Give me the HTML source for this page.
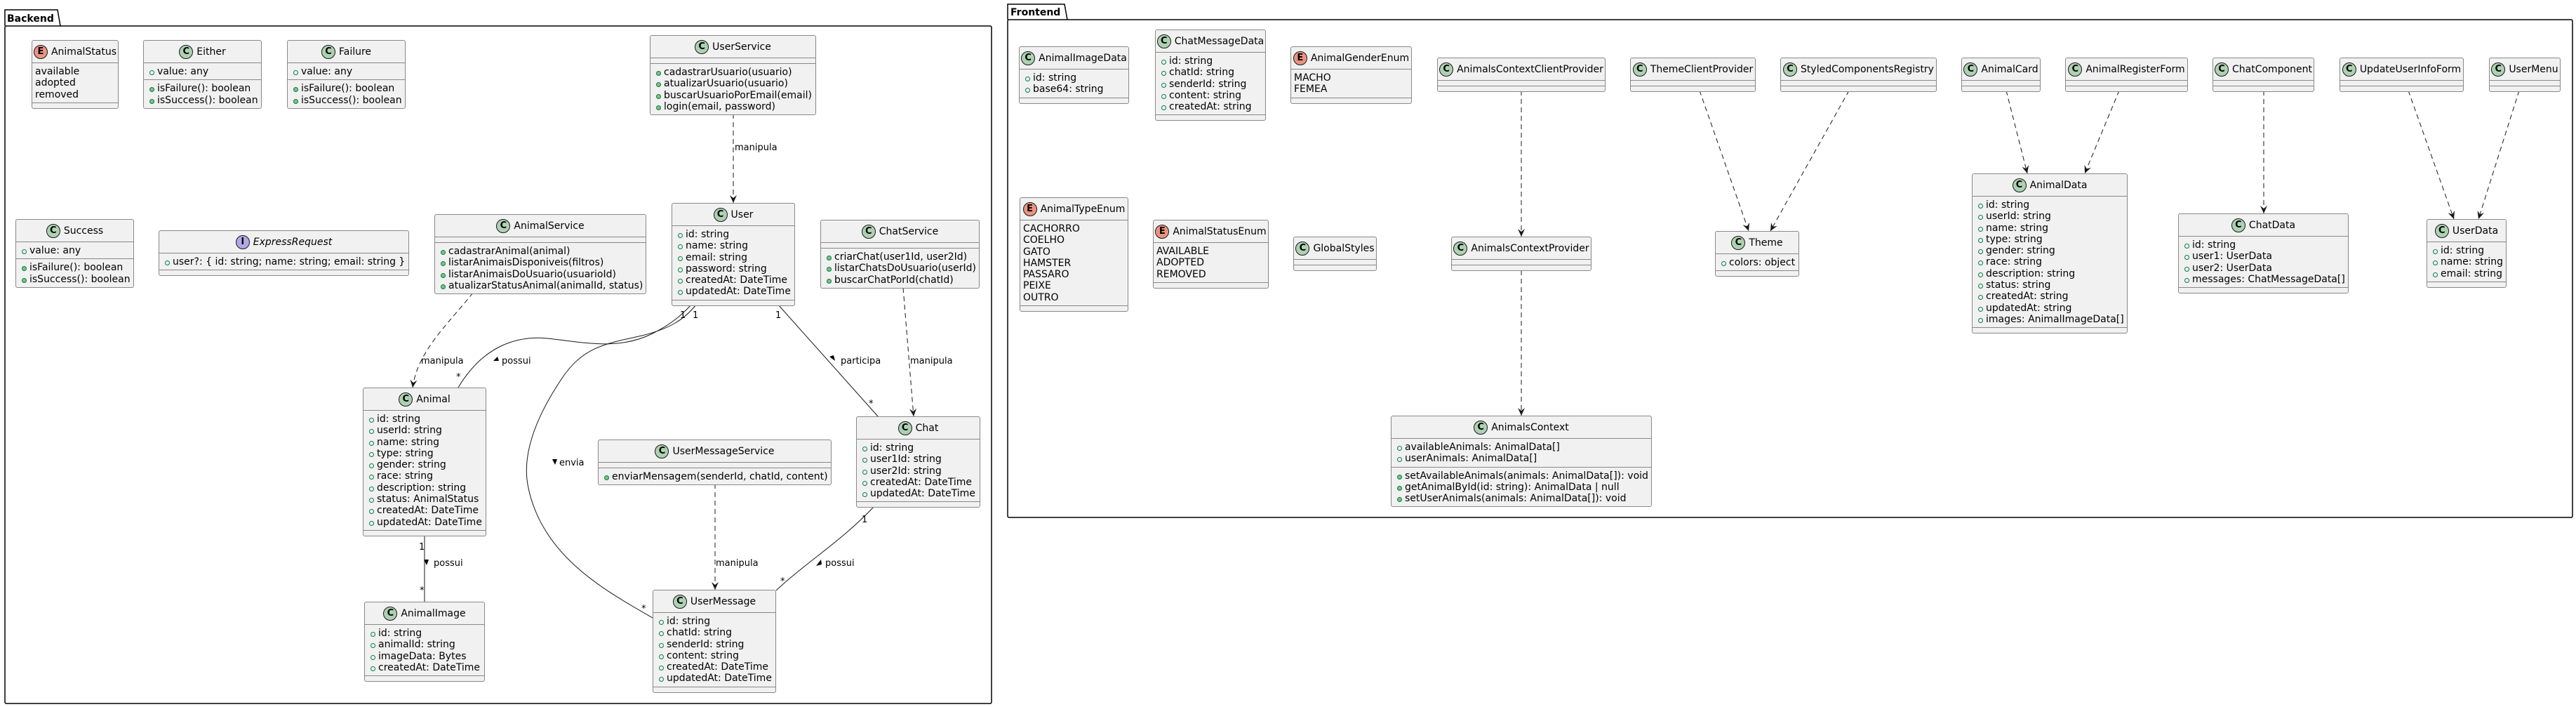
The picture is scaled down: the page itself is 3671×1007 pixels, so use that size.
<!DOCTYPE html>
<html><head><meta charset="utf-8">
<style>
html,body{margin:0;padding:0;background:#fff}
body{width:3671px;height:1007px;position:relative;overflow:hidden;font-family:"DejaVu Sans","Liberation Sans",sans-serif}
svg{position:absolute;left:0;top:0}
.b{position:absolute;background:#F1F1F1;border:1px solid #888;border-radius:3px;font-size:14px;color:#000;box-sizing:border-box;z-index:2}
.h{height:31px;display:flex;align-items:center;justify-content:center;white-space:nowrap}
.ic{width:20px;height:20px;border-radius:50%;border:1px solid #181818;background:#ADD1B2;font-weight:bold;font-size:13px;display:flex;align-items:center;justify-content:center;margin-right:5px;flex:none;box-sizing:border-box}
.E .ic{background:#EB937F}
.I .ic{background:#B4A7E5}
.s{border-top:1px solid #888;padding:4px 0 3px;min-height:8px;box-sizing:border-box}
.s:empty{padding:0;height:8px}
.s div{line-height:16.3px;height:16.3px;white-space:nowrap;padding-left:19px;position:relative}
.s .f::before,.s .m::before{content:"";position:absolute;left:8px;top:6px;width:5px;height:5px;border:1px solid #038048;border-radius:50%}
.s .m::before{background:#84BE84}
.E .s div{padding-left:4px}
</style></head><body>
<svg width="3671" height="1007" viewBox="0 0 3671 1007" font-family="DejaVu Sans, Liberation Sans, sans-serif">
<defs>
<marker id="ar" markerWidth="12" markerHeight="12" refX="11" refY="6" orient="auto" markerUnits="userSpaceOnUse">
<path d="M0,1 L11,6 L0,11 L4,6 Z" fill="#181818"/>
</marker>
</defs>
<!-- packages -->
<path d="M7,37 L7,14 L82,14 L86,37" fill="none" stroke="#000" stroke-width="1.5"/>
<rect x="7" y="37" width="1406" height="965" fill="none" stroke="#000" stroke-width="1.5" rx="2"/>
<text x="10" y="31" font-size="14" font-weight="bold">Backend</text>
<path d="M1436,28 L1436,6 L1517,6 L1521,28" fill="none" stroke="#000" stroke-width="1.5"/>
<rect x="1436" y="28" width="2230" height="709" fill="none" stroke="#000" stroke-width="1.5" rx="2"/>
<text x="1440" y="22" font-size="14" font-weight="bold">Frontend</text>

<g fill="none" stroke="#181818" stroke-width="1">
<!-- dashed deps backend -->
<path d="M1045,162 L1045,289" stroke-dasharray="7,5" marker-end="url(#ar)"/>
<path d="M674,417 C640,460 595,500 588,552" stroke-dasharray="7,5" marker-end="url(#ar)"/>
<path d="M1287,410 L1302,593" stroke-dasharray="7,5" marker-end="url(#ar)"/>
<path d="M1019,689 L1019,840" stroke-dasharray="7,5" marker-end="url(#ar)"/>
<!-- associations -->
<path d="M653,552 C690,490 740,478 780,482 C830,487 880,500 930,475 C960,460 975,445 985,434"/>
<path d="M992,434 C975,455 955,468 915,478 C860,490 830,495 800,540 C760,600 745,650 752,690 C770,790 860,840 930,880"/>
<path d="M1109,434 L1251,593"/>
<path d="M1246,721 C1200,770 1150,800 1106,841"/>
<path d="M605,762 L605,857"/>
<!-- frontend deps -->
<path d="M2168,129 L2168,337" stroke-dasharray="7,5" marker-end="url(#ar)"/>
<path d="M2168,385 L2168,592" stroke-dasharray="7,5" marker-end="url(#ar)"/>
<path d="M2422,129 L2492,329" stroke-dasharray="7,5" marker-end="url(#ar)"/>
<path d="M2635,129 L2523,329" stroke-dasharray="7,5" marker-end="url(#ar)"/>
<path d="M2859,129 L2889,247" stroke-dasharray="7,5" marker-end="url(#ar)"/>
<path d="M3020,129 L2971,247" stroke-dasharray="7,5" marker-end="url(#ar)"/>
<path d="M3226,129 L3226,304" stroke-dasharray="7,5" marker-end="url(#ar)"/>
<path d="M3432,129 L3497,312" stroke-dasharray="7,5" marker-end="url(#ar)"/>
<path d="M3590,129 L3532,312" stroke-dasharray="7,5" marker-end="url(#ar)"/>
</g>
<g font-size="13" fill="#000">
<text x="1047" y="214">manipula</text>
<text x="600" y="518">manipula</text>
<text x="1297" y="518">manipula</text>
<text x="1020" y="806">manipula</text>
<polygon points="703,514 711,514 709,508" fill="#000"/>
<text x="715" y="518">possui</text>
<polygon points="1182,508 1188,506 1190,514" fill="#000"/>
<text x="1198" y="518">participa</text>
<polygon points="787,654 794,654 791,662" fill="#000"/>
<text x="797" y="663">envia</text>
<polygon points="1163,806 1170,797 1171,804" fill="#000"/>
<text x="1176" y="806">possui</text>
<polygon points="604,797 611,797 608,805" fill="#000"/>
<text x="618" y="806">possui</text>
<text x="650" y="541">*</text>
<text x="969" y="453">1</text>
<text x="987" y="453">1</text>
<text x="1105" y="453">1</text>
<text x="1238" y="579">*</text>
<text x="1228" y="744">1</text>
<text x="1112" y="832">*</text>
<text x="914" y="871">*</text>
<text x="597" y="783">1</text>
<text x="598" y="845">*</text>
</g>
</svg>

<!-- Backend -->
<div class="b E" style="left:45px;top:57px;width:124px"><div class="h"><span class="ic">E</span>AnimalStatus</div><div class="s"><div>available</div><div>adopted</div><div>removed</div></div><div class="s"></div></div>
<div class="b" style="left:204px;top:57px;width:169px"><div class="h"><span class="ic">C</span>Either</div><div class="s"><div class="f">value: any</div></div><div class="s"><div class="m">isFailure(): boolean</div><div class="m">isSuccess(): boolean</div></div></div>
<div class="b" style="left:409px;top:57px;width:169px"><div class="h"><span class="ic">C</span>Failure</div><div class="s"><div class="f">value: any</div></div><div class="s"><div class="m">isFailure(): boolean</div><div class="m">isSuccess(): boolean</div></div></div>
<div class="b" style="left:926px;top:50px;width:237px"><div class="h"><span class="ic">C</span>UserService</div><div class="s"></div><div class="s"><div class="m">cadastrarUsuario(usuario)</div><div class="m">atualizarUsuario(usuario)</div><div class="m">buscarUsuarioPorEmail(email)</div><div class="m">login(email, password)</div></div></div>
<div class="b" style="left:22px;top:312px;width:169px"><div class="h"><span class="ic">C</span>Success</div><div class="s"><div class="f">value: any</div></div><div class="s"><div class="m">isFailure(): boolean</div><div class="m">isSuccess(): boolean</div></div></div>
<div class="b I" style="left:226px;top:328px;width:357px"><div class="h"><span class="ic">I</span><i>ExpressRequest</i></div><div class="s"><div class="f">user?: { id: string; name: string; email: string }</div></div><div class="s"></div></div>
<div class="b" style="left:619px;top:305px;width:302px"><div class="h"><span class="ic">C</span>AnimalService</div><div class="s"></div><div class="s"><div class="m">cadastrarAnimal(animal)</div><div class="m">listarAnimaisDisponiveis(filtros)</div><div class="m">listarAnimaisDoUsuario(usuarioId)</div><div class="m">atualizarStatusAnimal(animalId, status)</div></div></div>
<div class="b" style="left:957px;top:289px;width:176px"><div class="h"><span class="ic">C</span>User</div><div class="s"><div class="f">id: string</div><div class="f">name: string</div><div class="f">email: string</div><div class="f">password: string</div><div class="f">createdAt: DateTime</div><div class="f">updatedAt: DateTime</div></div><div class="s"></div></div>
<div class="b" style="left:1169px;top:313px;width:227px"><div class="h"><span class="ic">C</span>ChatService</div><div class="s"></div><div class="s"><div class="m">criarChat(user1Id, user2Id)</div><div class="m">listarChatsDoUsuario(userId)</div><div class="m">buscarChatPorId(chatId)</div></div></div>
<div class="b" style="left:517px;top:552px;width:176px"><div class="h"><span class="ic">C</span>Animal</div><div class="s"><div class="f">id: string</div><div class="f">userId: string</div><div class="f">name: string</div><div class="f">type: string</div><div class="f">gender: string</div><div class="f">race: string</div><div class="f">description: string</div><div class="f">status: AnimalStatus</div><div class="f">createdAt: DateTime</div><div class="f">updatedAt: DateTime</div></div><div class="s"></div></div>
<div class="b" style="left:852px;top:626px;width:333px"><div class="h"><span class="ic">C</span>UserMessageService</div><div class="s"></div><div class="s"><div class="m">enviarMensagem(senderId, chatId, content)</div></div></div>
<div class="b" style="left:1220px;top:593px;width:177px"><div class="h"><span class="ic">C</span>Chat</div><div class="s"><div class="f">id: string</div><div class="f">user1Id: string</div><div class="f">user2Id: string</div><div class="f">createdAt: DateTime</div><div class="f">updatedAt: DateTime</div></div><div class="s"></div></div>
<div class="b" style="left:519px;top:857px;width:172px"><div class="h"><span class="ic">C</span>AnimalImage</div><div class="s"><div class="f">id: string</div><div class="f">animalId: string</div><div class="f">imageData: Bytes</div><div class="f">createdAt: DateTime</div></div><div class="s"></div></div>
<div class="b" style="left:930px;top:840px;width:176px"><div class="h"><span class="ic">C</span>UserMessage</div><div class="s"><div class="f">id: string</div><div class="f">chatId: string</div><div class="f">senderId: string</div><div class="f">content: string</div><div class="f">createdAt: DateTime</div><div class="f">updatedAt: DateTime</div></div><div class="s"></div></div>

<!-- Frontend -->
<div class="b" style="left:1452px;top:66px;width:157px"><div class="h"><span class="ic">C</span>AnimalImageData</div><div class="s"><div class="f">id: string</div><div class="f">base64: string</div></div><div class="s"></div></div>
<div class="b" style="left:1646px;top:42px;width:158px"><div class="h"><span class="ic">C</span>ChatMessageData</div><div class="s"><div class="f">id: string</div><div class="f">chatId: string</div><div class="f">senderId: string</div><div class="f">content: string</div><div class="f">createdAt: string</div></div><div class="s"></div></div>
<div class="b E" style="left:1839px;top:66px;width:173px"><div class="h"><span class="ic">E</span>AnimalGenderEnum</div><div class="s"><div>MACHO</div><div>FEMEA</div></div><div class="s"></div></div>
<div class="b" style="left:2048px;top:82px;width:240px"><div class="h"><span class="ic">C</span>AnimalsContextClientProvider</div><div class="s"></div><div class="s"></div></div>
<div class="b" style="left:2323px;top:82px;width:179px"><div class="h"><span class="ic">C</span>ThemeClientProvider</div><div class="s"></div><div class="s"></div></div>
<div class="b" style="left:2537px;top:82px;width:223px"><div class="h"><span class="ic">C</span>StyledComponentsRegistry</div><div class="s"></div><div class="s"></div></div>
<div class="b" style="left:2795px;top:82px;width:113px"><div class="h"><span class="ic">C</span>AnimalCard</div><div class="s"></div><div class="s"></div></div>
<div class="b" style="left:2943px;top:82px;width:175px"><div class="h"><span class="ic">C</span>AnimalRegisterForm</div><div class="s"></div><div class="s"></div></div>
<div class="b" style="left:3153px;top:82px;width:145px"><div class="h"><span class="ic">C</span>ChatComponent</div><div class="s"></div><div class="s"></div></div>
<div class="b" style="left:3334px;top:82px;width:177px"><div class="h"><span class="ic">C</span>UpdateUserInfoForm</div><div class="s"></div><div class="s"></div></div>
<div class="b" style="left:3547px;top:82px;width:102px"><div class="h"><span class="ic">C</span>UserMenu</div><div class="s"></div><div class="s"></div></div>
<div class="b E" style="left:1453px;top:281px;width:155px"><div class="h"><span class="ic">E</span>AnimalTypeEnum</div><div class="s"><div>CACHORRO</div><div>COELHO</div><div>GATO</div><div>HAMSTER</div><div>PASSARO</div><div>PEIXE</div><div>OUTRO</div></div><div class="s"></div></div>
<div class="b E" style="left:1643px;top:313px;width:165px"><div class="h"><span class="ic">E</span>AnimalStatusEnum</div><div class="s"><div>AVAILABLE</div><div>ADOPTED</div><div>REMOVED</div></div><div class="s"></div></div>
<div class="b" style="left:1843px;top:337px;width:119px"><div class="h"><span class="ic">C</span>GlobalStyles</div><div class="s"></div><div class="s"></div></div>
<div class="b" style="left:2068px;top:337px;width:200px"><div class="h"><span class="ic">C</span>AnimalsContextProvider</div><div class="s"></div><div class="s"></div></div>
<div class="b" style="left:2444px;top:329px;width:120px"><div class="h"><span class="ic">C</span>Theme</div><div class="s"><div class="f">colors: object</div></div><div class="s"></div></div>
<div class="b" style="left:2810px;top:247px;width:222px"><div class="h"><span class="ic">C</span>AnimalData</div><div class="s"><div class="f">id: string</div><div class="f">userId: string</div><div class="f">name: string</div><div class="f">type: string</div><div class="f">gender: string</div><div class="f">race: string</div><div class="f">description: string</div><div class="f">status: string</div><div class="f">createdAt: string</div><div class="f">updatedAt: string</div><div class="f">images: AnimalImageData[]</div></div><div class="s"></div></div>
<div class="b" style="left:3104px;top:304px;width:243px"><div class="h"><span class="ic">C</span>ChatData</div><div class="s"><div class="f">id: string</div><div class="f">user1: UserData</div><div class="f">user2: UserData</div><div class="f">messages: ChatMessageData[]</div></div><div class="s"></div></div>
<div class="b" style="left:3458px;top:312px;width:114px"><div class="h"><span class="ic">C</span>UserData</div><div class="s"><div class="f">id: string</div><div class="f">name: string</div><div class="f">email: string</div></div><div class="s"></div></div>
<div class="b" style="left:1982px;top:592px;width:372px"><div class="h"><span class="ic">C</span>AnimalsContext</div><div class="s"><div class="f">availableAnimals: AnimalData[]</div><div class="f">userAnimals: AnimalData[]</div></div><div class="s"><div class="m">setAvailableAnimals(animals: AnimalData[]): void</div><div class="m">getAnimalById(id: string): AnimalData | null</div><div class="m">setUserAnimals(animals: AnimalData[]): void</div></div></div>
</body></html>
